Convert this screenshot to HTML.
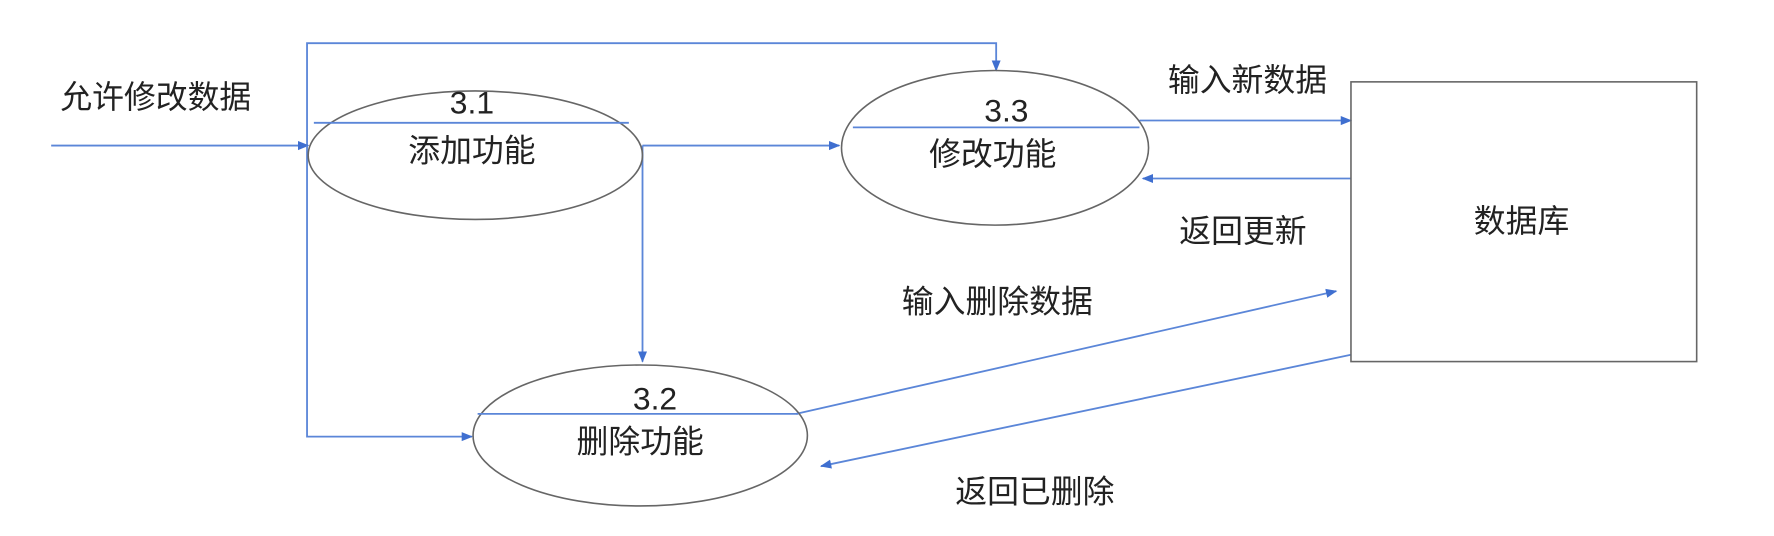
<!DOCTYPE html>
<html><head><meta charset="utf-8"><style>
html,body{margin:0;padding:0;background:#fff;width:1774px;height:536px;overflow:hidden}
text{font-family:"Liberation Sans","Noto Sans CJK SC",sans-serif;fill:#222;font-size:28px;text-anchor:middle}
</style></head><body>
<svg width="1774" height="536" viewBox="0 0 1560 471.4" preserveAspectRatio="none" xmlns="http://www.w3.org/2000/svg">
<defs><marker id="a" markerWidth="10" markerHeight="10" refX="9" refY="5" orient="auto" markerUnits="userSpaceOnUse"><path d="M0,1 L10,5 L0,9 Z" fill="#3f6fd0"/></marker></defs>
<g stroke="#5b86d8" stroke-width="1.6" fill="none">
<polyline points="270,128 270,38 876,38 876,62" marker-end="url(#a)"/>
<line x1="45" y1="128" x2="271" y2="128" marker-end="url(#a)"/>
<polyline points="270,128 270,384 415,384" marker-end="url(#a)"/>
<line x1="565" y1="128" x2="738" y2="128" marker-end="url(#a)"/>
<line x1="565" y1="128" x2="565" y2="318" marker-end="url(#a)"/>
<line x1="1002" y1="106" x2="1188" y2="106" marker-end="url(#a)"/>
<line x1="1188" y1="157" x2="1005" y2="157" marker-end="url(#a)"/>
<line x1="700" y1="364" x2="1175" y2="256" marker-end="url(#a)"/>
<line x1="1188" y1="312" x2="722" y2="410" marker-end="url(#a)"/>
</g>
<g stroke="#666" stroke-width="1.4" fill="none">
<ellipse cx="418" cy="136.5" rx="147" ry="56.5"/>
<ellipse cx="563" cy="383" rx="147" ry="62"/>
<ellipse cx="875" cy="130" rx="135" ry="68"/>
<rect x="1188" y="72" width="304" height="246"/>
</g>
<g stroke="#5b86d8" stroke-width="1.6">
<line x1="276" y1="108" x2="553" y2="108"/>
<line x1="420" y1="364" x2="702" y2="364"/>
<line x1="750" y1="112" x2="1002" y2="112"/>
</g>
<text x="137" y="95">允许修改数据</text>
<text x="415" y="100">3.1</text>
<text x="415" y="142">添加功能</text>
<text x="576" y="360">3.2</text>
<text x="563" y="398">删除功能</text>
<text x="885" y="107">3.3</text>
<text x="873" y="145">修改功能</text>
<text x="1097" y="80">输入新数据</text>
<text x="1093" y="213">返回更新</text>
<text x="1338" y="204">数据库</text>
<text x="877" y="275">输入删除数据</text>
<text x="910" y="442">返回已删除</text>
</svg>
</body></html>
